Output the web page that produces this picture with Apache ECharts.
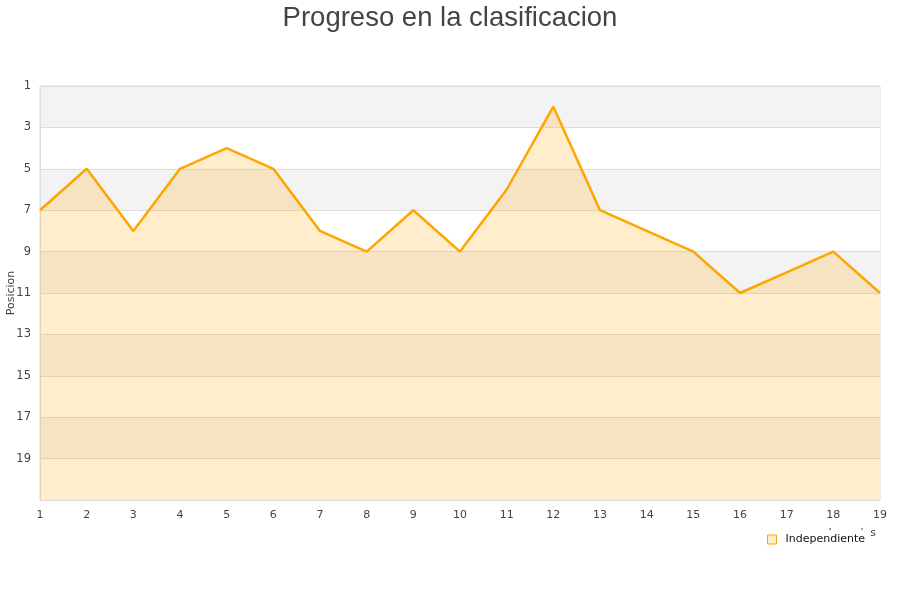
<!DOCTYPE html>
<html><head><meta charset="utf-8">
<script src="https://cdn.jsdelivr.net/npm/echarts@6/dist/echarts.min.js"></script>
<style>html,body{margin:0;padding:0;background:#fff}#c{width:900px;height:600px}</style>
</head><body><div id="c"></div>
<script>
var jornadas = [1,2,3,4,5,6,7,8,9,10,11,12,13,14,15,16,17,18,19];
var posiciones = [7,5,8,5,4,5,8,9,7,9,6,2,7,8,9,11,10,9,11];
var seriesName = 'Independiente';
var titleText = 'Progreso en la clasificacion';

var chart = echarts.init(document.getElementById('c'), null, {renderer:'canvas'});
chart.setOption({
  animation: false,
  title: {text: titleText, left: 'center', top: -1,
    textStyle: {fontFamily: 'Liberation Sans', fontSize: 27.5, fontWeight: 'normal', color: '#444'}},
  grid: {left: 40, right: 20, top: 86, bottom: 100, containLabel: false, outerBoundsMode: 'none',
    show: true, borderColor: '#ddd', borderWidth: 1, backgroundColor: 'transparent'},
  legend: {data: [{name: seriesName, icon: 'rect'}], left: 763, top: 530, itemWidth: 9, itemHeight: 9,
    backgroundColor: '#fff', padding: [4, 5, 4, 4], itemGap: 5,
    itemStyle: {color: 'rgba(255,165,0,0.2)', borderColor: '#ffa500', borderWidth: 1},
    textStyle: {fontFamily: 'DejaVu Sans', fontSize: 11, color: '#111', padding: [0, 0, 0, 4]}, z: 10},
  xAxis: {type: 'value', min: 1, max: 19, interval: 1,
    name: 'Jornadas', nameLocation: 'end', nameGap: -4, nameMoveOverlap: false,
    nameTextStyle: {fontFamily: 'DejaVu Sans', fontSize: 11, color: '#444', align: 'right', verticalAlign: 'top', padding: [28, 0, 0, 0]},
    axisLine: {show: true, lineStyle: {color: '#ddd'}}, axisTick: {show: false},
    axisLabel: {fontFamily: 'DejaVu Sans', fontSize: 11, color: '#444', margin: 10},
    splitLine: {show: false}},
  yAxis: {type: 'value', inverse: true, min: 1, max: 21, interval: 2,
    name: 'Posicion', nameLocation: 'middle', nameGap: 23, nameMoveOverlap: false,
    nameTextStyle: {fontFamily: 'DejaVu Sans', fontSize: 11, color: '#444'},
    axisLine: {show: true, lineStyle: {color: '#ddd'}}, axisTick: {show: false},
    axisLabel: {fontFamily: 'DejaVu Sans', fontSize: 11.5, color: '#444', margin: 9,
      formatter: function(v){ return v === 21 ? '' : String(v); }},
    splitLine: {show: true, lineStyle: {color: '#ddd'}},
    splitArea: {show: true, areaStyle: {color: ['#f3f3f3', '#ffffff']}}},
  series: [{name: seriesName, type: 'line', data: jornadas.map(function(j, i){ return [j, posiciones[i]]; }),
    showSymbol: false, symbol: 'none',
    lineStyle: {color: '#ffa500', width: 2.5},
    itemStyle: {color: '#ffa500'},
    areaStyle: {color: 'rgba(255,165,0,0.2)', opacity: 1, origin: 'end'}}]
});
</script></body></html>
